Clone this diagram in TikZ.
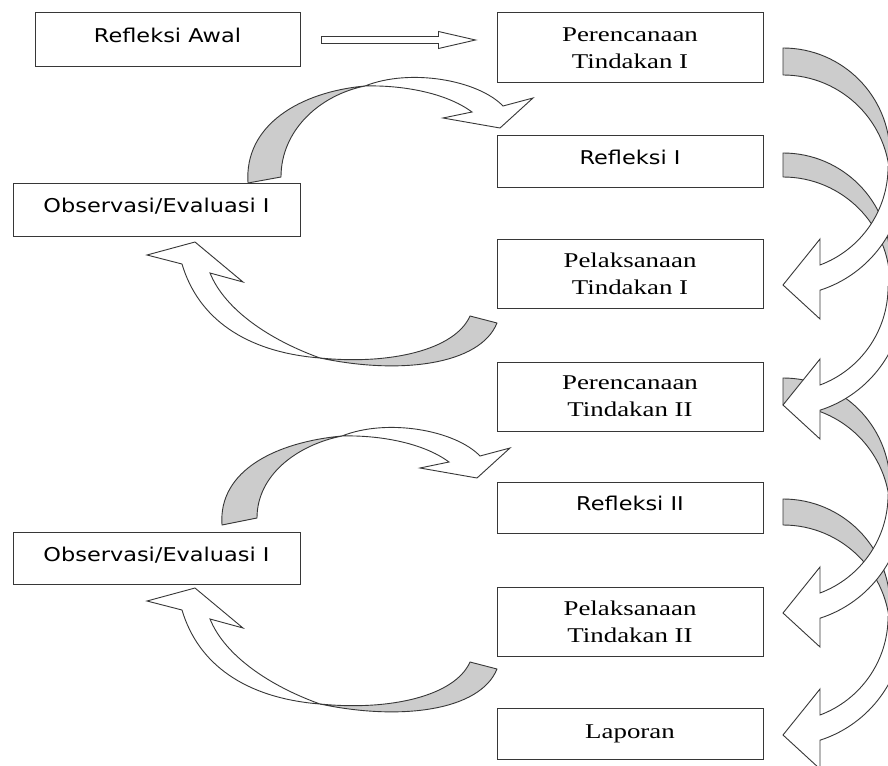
\documentclass[tikz,border=0pt]{standalone}
\usepackage{fontspec}
\newfontfamily\boxsans[FakeStretch=1.18]{DejaVu Sans}
\newfontfamily\boxserif[FakeStretch=1.28]{Liberation Serif}
\usepackage{tikz}
\usetikzlibrary{calc}
\definecolor{backgray}{RGB}{204,204,204}
\definecolor{edgegray}{RGB}{55,55,55}
\tikzset{
  stage/.style={draw=edgegray, line width=1pt, minimum width=266pt, inner sep=0pt},
  sanstext/.style={font=\boxsans\fontsize{19}{23}\selectfont, text height=13pt, text depth=7pt},
  seriftext/.style={font=\boxserif\fontsize{21}{27}\selectfont, align=center},
  backside/.style={fill=backgray, draw=edgegray, line width=0.9pt, line join=round},
  frontside/.style={fill=white, draw=edgegray, line width=0.9pt},
}

\begin{document}
\begin{tikzpicture}[x=1pt, y=-1pt]
    \useasboundingbox (0,0) rectangle (888,765);
    \clip (0,0) rectangle (888,765);
    \fill[white] (0,0) rectangle (888,765);

    \node[stage, sanstext, minimum width=265pt, minimum height=54pt] (awal) at (167.5,40) {Refleksi Awal};
    \node[stage, seriftext, minimum height=70pt] (rencana1) at (630,48) {Perencanaan\\Tindakan I};
    \node[stage, sanstext, minimum height=52pt] (refleksi1) at (630,161) {Refleksi I};
    \node[stage, seriftext, minimum height=69pt] (laksana1) at (630,273.5) {Pelaksanaan\\Tindakan I};
    \node[stage, seriftext, minimum height=69pt] (rencana2) at (630,396.5) {Perencanaan\\Tindakan II};
    \node[stage, sanstext, minimum height=51pt] (refleksi2) at (630,507.5) {Refleksi II};
    \node[stage, seriftext, minimum height=69pt] (laksana2) at (630,621.5) {Pelaksanaan\\Tindakan II};
    \node[stage, seriftext, minimum height=51pt] (laporan) at (630,733.5) {Laporan};
    \node[stage, sanstext, minimum width=287pt, minimum height=53pt] (observasi1) at (156.5,209.5) {Observasi/Evaluasi I};
    \node[stage, sanstext, minimum width=287pt, minimum height=52pt] (observasi2) at (156.5,558) {Observasi/Evaluasi I};

    \draw[frontside] ($(awal.east)+(21,-3.5)$) -- ++(117,0) -- ++(0,-5) -- ++(37,8.5)
        -- ++(-37,8.5) -- ++(0,-5) -- ++(-117,0) -- cycle;

    % siklus I
    \draw[backside] (248,183) .. controls (244,125) and (300,92) .. (365,86)
        .. controls (320,95) and (281,130) .. (281,177) -- cycle;
    \draw[frontside] (365,86) .. controls (410,68) and (478,80) .. (503,106) -- (533,98)
        -- (500,128) -- (443,118) -- (472,112) .. controls (445,92) and (400,85) .. (365,86) -- cycle;
    \draw[backside] (497,323) .. controls (480,365) and (400,375) .. (320,358)
        .. controls (390,365) and (455,350) .. (470,316) -- cycle;
    \draw[frontside] (320,358) .. controls (245,352) and (198,318) .. (182,264) -- (147,255)
        -- (195,242) -- (243,282) -- (210,273) .. controls (225,310) and (270,340) .. (320,358) -- cycle;

    % siklus II
    \begin{scope}[shift={(-23,350)}]
    \draw[backside] (245,175) .. controls (241,120) and (300,92) .. (365,86)
        .. controls (320,95) and (280,125) .. (280,168) -- cycle;
    \draw[frontside] (365,86) .. controls (410,68) and (478,80) .. (503,106) -- (533,98)
        -- (500,128) -- (443,118) -- (472,112) .. controls (445,92) and (400,85) .. (365,86) -- cycle;
    \end{scope}
    \begin{scope}[shift={(0,346)}]
    \draw[backside] (497,323) .. controls (480,365) and (400,375) .. (320,358)
        .. controls (390,365) and (455,350) .. (470,316) -- cycle;
    \draw[frontside] (320,358) .. controls (245,352) and (198,318) .. (182,264) -- (147,255)
        -- (195,242) -- (243,282) -- (210,273) .. controls (225,310) and (270,340) .. (320,358) -- cycle;
    \end{scope}

    % panah kanan
    \foreach \b/\w in {48/27, 153/24, 378/27, 499/26}
        \draw[backside] (783,\b) arc (270:360:107) -- (890,\b+\w+107) arc (0:-90:107) -- cycle;
    \foreach \t in {285, 405, 613, 735}
        \draw[frontside] (820,\t-20) arc (69.4:0:105) -- (904,\t-110) arc (0:72.2:121)
            -- (820,\t+34) -- (783,\t) -- (820,\t-46) -- cycle;
\end{tikzpicture}
\end{document}
